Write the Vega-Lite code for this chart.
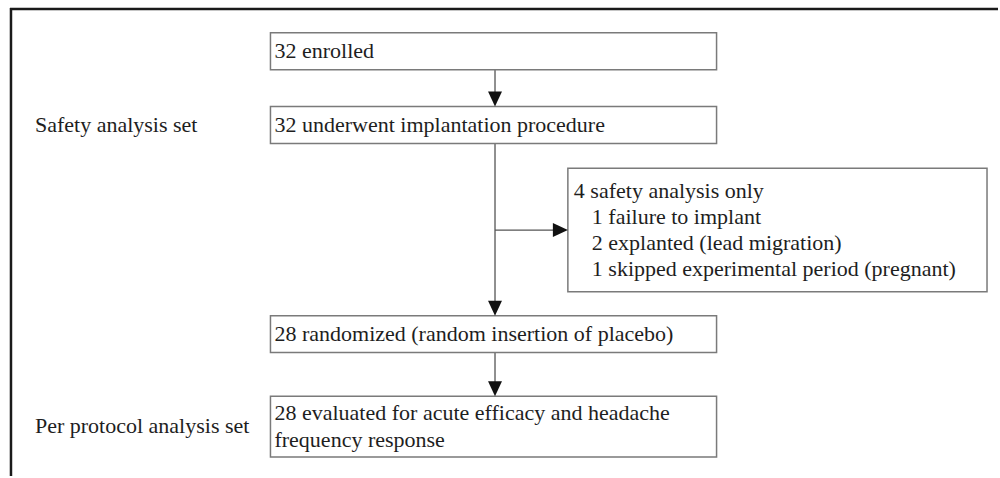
{
  "$schema": "https://vega.github.io/schema/vega-lite/v6.json",
  "width": 1000,
  "height": 478,
  "autosize": {"type": "fit", "contains": "padding"},
  "padding": 0,
  "background": "white",
  "config": {"view": {"stroke": null}},
  "datasets": {
    "frame": [
      {"x": 10, "x2": 1000, "y": 9, "y2": 9},
      {"x": 11, "x2": 11, "y": 8, "y2": 478}
    ],
    "links": [
      {"x": 496, "x2": 496, "y": 70, "y2": 100},
      {"x": 496, "x2": 496, "y": 144, "y2": 310},
      {"x": 496, "x2": 562, "y": 231, "y2": 231},
      {"x": 496, "x2": 496, "y": 354, "y2": 391}
    ],
    "boxes": [
      {"id": "enrolled", "x": 271, "x2": 718, "y": 33, "y2": 70},
      {"id": "implant", "x": 271, "x2": 718, "y": 107, "y2": 144},
      {"id": "safety", "x": 569, "x2": 989, "y": 169, "y2": 293},
      {"id": "random", "x": 271, "x2": 718, "y": 317, "y2": 354},
      {"id": "eval", "x": 271, "x2": 718, "y": 398, "y2": 459}
    ],
    "arrows": [
      {"x": 496, "y": 99.5, "dir": "down"},
      {"x": 561.5, "y": 231, "dir": "right"},
      {"x": 496, "y": 309.5, "dir": "down"},
      {"x": 496, "y": 390.5, "dir": "down"}
    ],
    "labels": [
      {"text": "32 enrolled", "x": 275, "y": 51.5},
      {"text": "Safety analysis set", "x": 35, "y": 125.5},
      {"text": "32 underwent implantation procedure", "x": 275, "y": 125.5},
      {"text": "4 safety analysis only", "x": 575, "y": 192},
      {"text": "1 failure to implant", "x": 593, "y": 218},
      {"text": "2 explanted (lead migration)", "x": 593, "y": 244},
      {"text": "1 skipped experimental period (pregnant)", "x": 593, "y": 270},
      {"text": "28 randomized (random insertion of placebo)", "x": 275, "y": 335.5},
      {"text": "28 evaluated for acute efficacy and headache", "x": 275, "y": 415},
      {"text": "frequency response", "x": 275, "y": 442},
      {"text": "Per protocol analysis set", "x": 35, "y": 428}
    ]
  },
  "layer": [
    {
      "data": {"name": "frame"},
      "mark": {"type": "rule", "color": "#1a1a1a", "strokeWidth": 2.5},
      "encoding": {
        "x": {"field": "x", "type": "quantitative", "scale": {"domain": [0, 1000], "nice": false, "zero": false}, "axis": null},
        "x2": {"field": "x2"},
        "y": {"field": "y", "type": "quantitative", "scale": {"domain": [0, 478], "nice": false, "zero": false, "reverse": true}, "axis": null},
        "y2": {"field": "y2"}
      }
    },
    {
      "data": {"name": "links"},
      "mark": {"type": "rule", "color": "#555555", "strokeWidth": 1.3},
      "encoding": {
        "x": {"field": "x", "type": "quantitative", "axis": null},
        "x2": {"field": "x2"},
        "y": {"field": "y", "type": "quantitative", "axis": null},
        "y2": {"field": "y2"}
      }
    },
    {
      "data": {"name": "boxes"},
      "mark": {"type": "rect", "fill": "white", "stroke": "#7a7a7a", "strokeWidth": 1.5},
      "encoding": {
        "x": {"field": "x", "type": "quantitative", "axis": null},
        "x2": {"field": "x2"},
        "y": {"field": "y", "type": "quantitative", "axis": null},
        "y2": {"field": "y2"}
      }
    },
    {
      "data": {"name": "arrows"},
      "mark": {"type": "point", "filled": true, "color": "#111111", "size": 225, "opacity": 1, "strokeWidth": 0},
      "encoding": {
        "x": {"field": "x", "type": "quantitative", "axis": null},
        "y": {"field": "y", "type": "quantitative", "axis": null},
        "shape": {
          "field": "dir",
          "type": "nominal",
          "scale": {"domain": ["down", "right"], "range": ["M-0.93,-1L0.93,-1L0,1Z", "M-1,-0.93L1,0L-1,0.93Z"]},
          "legend": null
        }
      }
    },
    {
      "data": {"name": "labels"},
      "mark": {"type": "text", "align": "left", "baseline": "middle", "font": "Liberation Serif", "fontSize": 22, "color": "#1e1e1e"},
      "encoding": {
        "x": {"field": "x", "type": "quantitative", "axis": null},
        "y": {"field": "y", "type": "quantitative", "axis": null},
        "text": {"field": "text", "type": "nominal"}
      }
    }
  ]
}
